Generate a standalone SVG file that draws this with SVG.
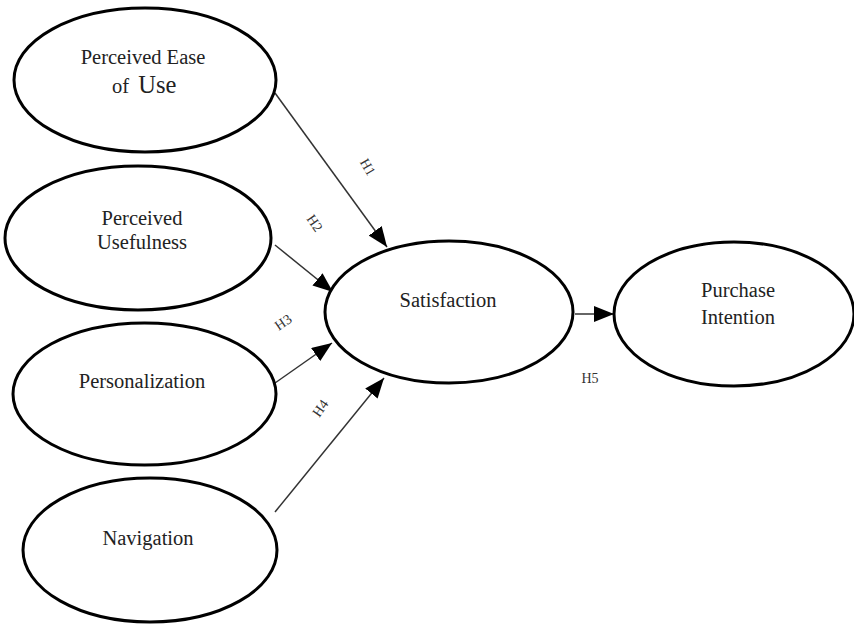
<svg xmlns="http://www.w3.org/2000/svg" width="854" height="627" viewBox="0 0 854 627">
<defs>
<style>
.node ellipse{fill:#fff;stroke:#000;stroke-width:3}
.t{font-family:"Liberation Serif","Times New Roman",serif;font-size:20.5px;fill:#222;text-anchor:middle}
.lbl{font-family:"Liberation Serif","Times New Roman",serif;font-size:14px;fill:#333;text-anchor:middle}
.conn line{stroke:#333;stroke-width:1.5;marker-end:url(#ah)}
</style>
<marker id="ah" markerUnits="userSpaceOnUse" markerWidth="20" markerHeight="16" viewBox="0 0 20 16" refX="20" refY="8" orient="auto">
<path d="M0,0 L20,8 L0,16 Z" fill="#000"/>
</marker>
</defs>
<rect width="854" height="627" fill="#fff"/>
<g id="connectors" class="conn">
<line x1="275" y1="93" x2="387" y2="247"/>
<line x1="275" y1="245" x2="333" y2="292"/>
<line x1="275" y1="383" x2="332" y2="343"/>
<line x1="275" y1="512" x2="384" y2="378"/>
<line x1="575" y1="314" x2="614" y2="314"/>
</g>
<g id="labels">
<text class="lbl" transform="translate(368,167) rotate(60)" y="5">H1</text>
<text class="lbl" transform="translate(315,223) rotate(55)" y="5">H2</text>
<text class="lbl" transform="translate(283,322) rotate(-35)" y="5">H3</text>
<text class="lbl" transform="translate(320,408) rotate(-55)" y="5">H4</text>
<text class="lbl" x="590" y="383">H5</text>
</g>
<g id="peou" class="node">
<ellipse cx="145" cy="80" rx="131" ry="72"/>
<text class="t" x="143" y="64">Perceived Ease</text>
<text class="t" x="145" y="93" style="text-anchor:start" dx="-33">of <tspan font-size="24.5" dx="4">Use</tspan></text>
</g>
<g id="pu" class="node">
<ellipse cx="138" cy="238" rx="133" ry="72"/>
<text class="t" x="142" y="225">Perceived</text>
<text class="t" x="142" y="249">Usefulness</text>
</g>
<g id="pers" class="node">
<ellipse cx="144.5" cy="394" rx="131.5" ry="71"/>
<text class="t" x="142" y="388">Personalization</text>
</g>
<g id="nav" class="node">
<ellipse cx="150" cy="550" rx="127" ry="72"/>
<text class="t" x="148" y="545">Navigation</text>
</g>
<g id="sat" class="node">
<ellipse cx="449" cy="312" rx="124" ry="71"/>
<text class="t" x="448" y="307">Satisfaction</text>
</g>
<g id="pi" class="node">
<ellipse cx="734" cy="314" rx="120" ry="72"/>
<text class="t" x="738" y="297">Purchase</text>
<text class="t" x="738" y="324">Intention</text>
</g>
</svg>
